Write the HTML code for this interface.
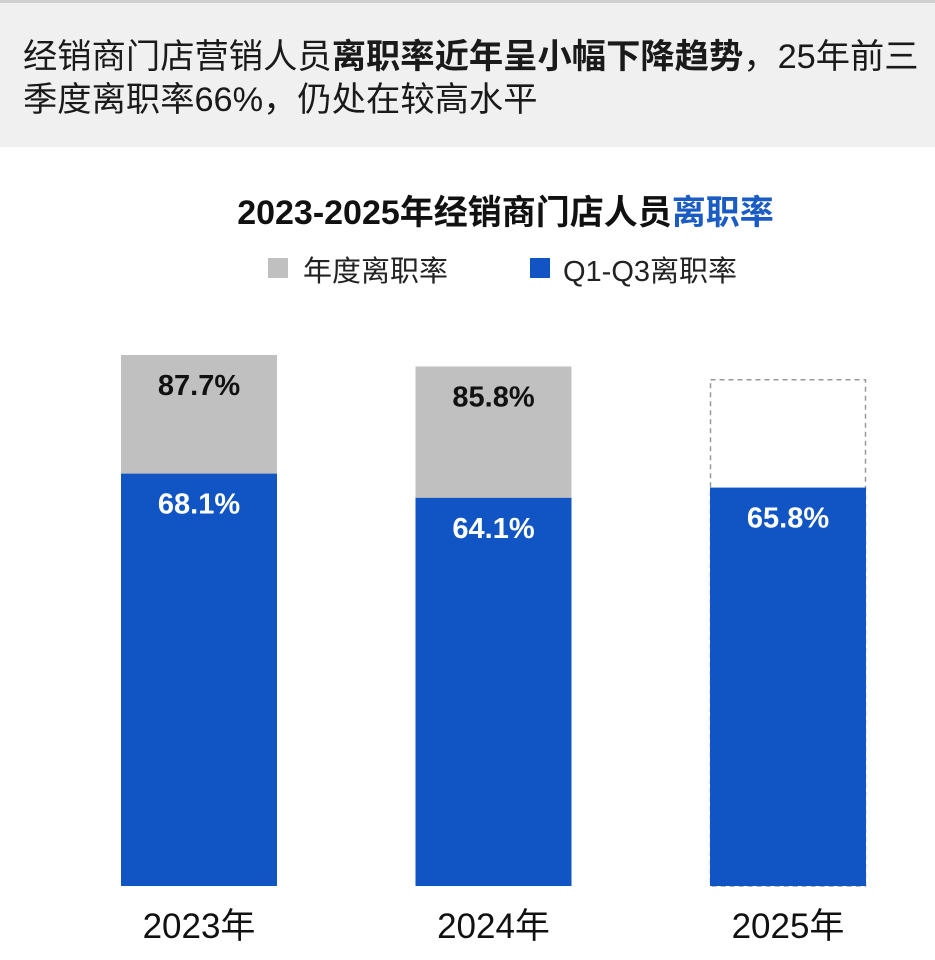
<!DOCTYPE html>
<html><head><meta charset="utf-8"><style>
body{margin:0;width:935px;height:960px;background:#fff;position:relative;overflow:hidden;font-family:"Liberation Sans","Noto Sans CJK SC",sans-serif;}
#hdr{position:absolute;left:0;top:0;width:935px;height:147px;background:#f0f0f0;border-top:3px solid #cfcfcf;box-sizing:border-box;}
#hdr p{margin:0;position:absolute;left:23px;top:33px;font-size:34.3px;line-height:43px;color:#1a1a1a;width:910px;white-space:nowrap;}
#title{position:absolute;left:38px;width:935px;top:185px;text-align:center;font-size:34px;font-weight:bold;color:#111;}
.lg{position:absolute;top:248px;font-size:29px;color:#222;}
.sw{position:absolute;top:258px;width:20px;height:20px;}
</style></head><body>
<div id="hdr"><p>经销商门店营销人员<b>离职率近年呈小幅下降趋势</b>，25年前三<br>季度离职率66%，仍处在较高水平</p></div>
<div id="title">2023-2025年经销商门店人员<span style="color:#1a5bc4">离职率</span></div>
<div class="sw" style="left:268px;background:#c0c0c0"></div>
<div class="lg" style="left:303px">年度离职率</div>
<div class="sw" style="left:530px;background:#1155c4"></div>
<div class="lg" style="left:563px">Q1-Q3离职率</div>
<svg id="chart" width="935" height="960" style="position:absolute;left:0;top:0"></svg>
<script>
const categories=["2023年","2024年","2025年"];
const annual=[87.7,85.8,83.6];
const annualLabels=["87.7%","85.8%",""];
const q13=[68.1,64.1,65.8];
const q13Labels=["68.1%","64.1%","65.8%"];
const ns="http://www.w3.org/2000/svg";
const svg=document.getElementById('chart');
const base=886, k=6.055;
const y=v=>base-v*k;
const x=i=>121+i*294.5;
const bw=156;
function mk(t,a){const e=document.createElementNS(ns,t);for(const n in a)e.setAttribute(n,a[n]);svg.appendChild(e);return e;}
categories.forEach((c,i)=>{
  const dashed=i===2;
  let r=mk('rect',dashed?{x:x(i)+0.5,y:y(annual[i]),width:bw-1,height:base-y(annual[i]),fill:'#fff',stroke:'#999','stroke-dasharray':'5,4','stroke-width':1.5}:{x:x(i),y:y(annual[i]),width:bw,height:base-y(annual[i]),fill:'#c0c0c0'});
  
  
  let b=mk('rect',{x:x(i),y:y(q13[i]),width:bw,height:base-y(q13[i]),fill:'#1155c4'});
  
  
  if(annualLabels[i]){let t=mk('text',{x:x(i)+bw/2,y:y(annual[i])+40,'text-anchor':'middle','font-size':29,'font-weight':'bold',fill:'#111','font-family':'Liberation Sans, sans-serif'});t.textContent=annualLabels[i];
  
  }
  let t2=mk('text',{x:x(i)+bw/2,y:y(q13[i])+40,'text-anchor':'middle','font-size':29,'font-weight':'bold',fill:'#fff','font-family':'Liberation Sans, sans-serif'});t2.textContent=q13Labels[i];
  
  
  let t3=mk('text',{x:x(i)+bw/2,y:938,'text-anchor':'middle','font-size':35,fill:'#111','font-family':'Liberation Sans, Noto Sans CJK SC, sans-serif'});t3.textContent=c;
  
  
});
</script>
</body></html>
